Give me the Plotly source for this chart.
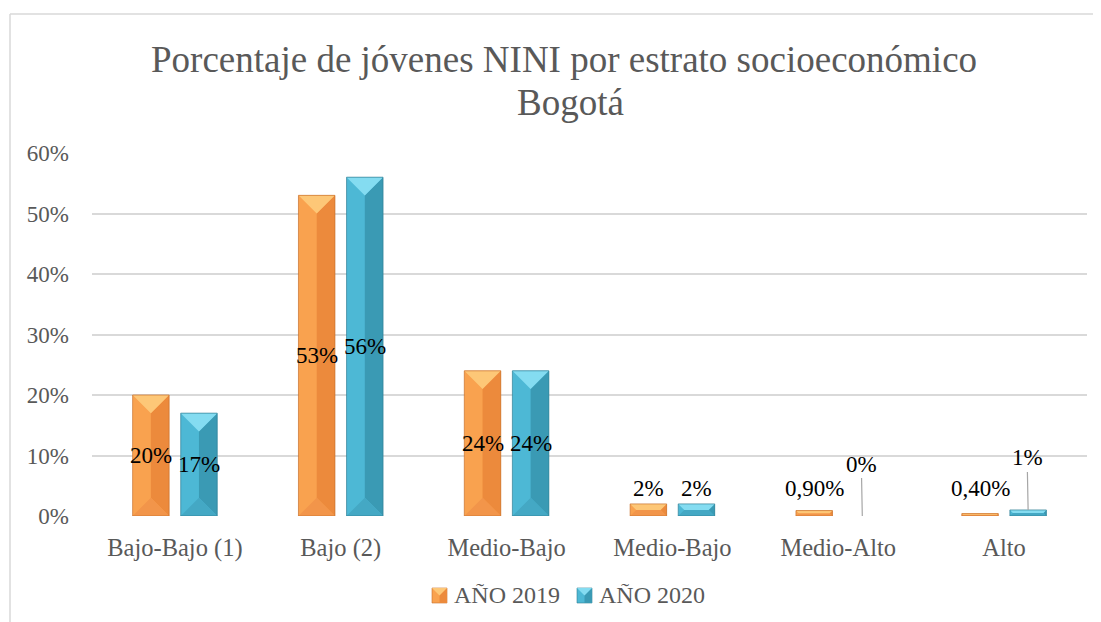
import plotly.graph_objects as go

# data
categories = ["Bajo-Bajo (1)", "Bajo (2)", "Medio-Bajo", "Medio-Bajo", "Medio-Alto", "Alto"]
y2019 = [20, 53, 24, 2, 0.9, 0.4]
y2020 = [17, 56, 24, 2, 0, 1]
labels2019 = ["20%", "53%", "24%", "2%", "0,90%", "0,40%"]
labels2020 = ["17%", "56%", "24%", "2%", "0%", "1%"]
yticks = [0, 10, 20, 30, 40, 50, 60]

W, H = 1101, 622
OFF = 8  # page body offset
L, T = 84, 145
plot_w, plot_h = 995, 363
R = W - L - plot_w
B = H - T - plot_h
px_x = plot_w / len(categories)
px_y = plot_h / 60.0


def px2paper(sx, sy):
    fx, fy = sx - OFF, sy - OFF
    return (fx - L) / plot_w, (T + plot_h - fy) / plot_h


bar_w = 0.22
series = [
    dict(name="AÑO 2019", vals=y2019, labels=labels2019, off=-0.255,
         left="#F9A24F", right="#EC8A3C", top="#FDC777", bottom="#F2954A", edge="#C8712D",
         icon_x=432),
    dict(name="AÑO 2020", vals=y2020, labels=labels2020, off=0.035,
         left="#4DB8D5", right="#3A9AB4", top="#84DCF1", bottom="#44A8C4", edge="#2F7F95",
         icon_x=577),
]

fig = go.Figure()
annotations = []
shapes = []

for s in series:
    xs = list(range(len(categories)))
    fig.add_trace(go.Bar(
        x=xs, y=s["vals"], width=bar_w, offset=s["off"],
        name=s["name"], marker=dict(color=s["left"], line=dict(width=0)),
        hoverinfo="skip", showlegend=False
    ))

    # bevel faces
    faces = {"right": ([], []), "top": ([], []), "bottom": ([], []), "edge": ([], [])}
    for i, v in enumerate(s["vals"]):
        if v <= 0:
            continue
        x0 = i + s["off"]
        x1 = x0 + bar_w
        hw_px = bar_w * px_x / 2
        b_px = min(hw_px, v * px_y / 2)
        bx = b_px / px_x
        by = b_px / px_y
        polys = {
            "right": [(x1, 0), (x1, v), (x1 - bx, v - by), (x1 - bx, by)],
            "top": [(x0, v), (x1, v), (x1 - bx, v - by), (x0 + bx, v - by)],
            "bottom": [(x0, 0), (x1, 0), (x1 - bx, by), (x0 + bx, by)],
            "edge": [(x0, 0), (x0, v), (x1, v), (x1, 0)],
        }
        for k, pts in polys.items():
            faces[k][0].extend([p[0] for p in pts] + [pts[0][0], None])
            faces[k][1].extend([p[1] for p in pts] + [pts[0][1], None])

    for k in ["right", "bottom", "top"]:
        fig.add_trace(go.Scatter(
            x=faces[k][0], y=faces[k][1], mode="lines", fill="toself",
            fillcolor=s[k], line=dict(width=0), showlegend=False, hoverinfo="skip"
        ))
    fig.add_trace(go.Scatter(
        x=faces["edge"][0], y=faces["edge"][1], mode="lines",
        line=dict(width=0.7, color=s["edge"]), showlegend=False, hoverinfo="skip"
    ))

    # data labels
    for i, (v, lab) in enumerate(zip(s["vals"], s["labels"])):
        xc = i + s["off"] + bar_w / 2
        font = dict(family="Liberation Serif", size=23, color="#000000")
        if v >= 10:
            annotations.append(dict(x=xc, y=v / 2, text=lab, showarrow=False,
                                    font=font, xanchor="center", yanchor="middle"))
        elif s["name"] == "AÑO 2020" and i >= 4:
            annotations.append(dict(x=xc, y=v, text=lab, showarrow=True, arrowhead=0,
                                    arrowwidth=1.2, arrowcolor="#A6A6A6",
                                    ax=-1, ay=-52, font=font))
        else:
            annotations.append(dict(x=xc, y=max(v, 2), text=lab, showarrow=False,
                                    font=font, xanchor="center", yanchor="bottom", yshift=1))

    # custom legend entry: small bevelled square + text
    ix0, iy0 = px2paper(s["icon_x"], 588)
    ix1, iy1 = px2paper(s["icon_x"] + 15, 603)
    ixc = (ix0 + ix1) / 2
    shapes.append(dict(type="rect", xref="paper", yref="paper", x0=ix0, y0=iy1, x1=ix1, y1=iy0,
                       fillcolor=s["left"], line=dict(width=0.6, color=s["edge"])))
    shapes.append(dict(type="rect", xref="paper", yref="paper", x0=ixc, y0=iy1, x1=ix1, y1=iy0,
                       fillcolor=s["right"], line=dict(width=0)))
    _, imid = px2paper(0, 595.5)
    shapes.append(dict(type="path", xref="paper", yref="paper",
                       path=f"M{ix0},{iy0} L{ix1},{iy0} L{ixc},{imid} Z",
                       fillcolor=s["top"], line=dict(width=0)))
    tx, ty = px2paper(s["icon_x"] + 20, 595)
    annotations.append(dict(xref="paper", yref="paper", x=tx, y=ty, text=s["name"],
                            showarrow=False, xanchor="left", yanchor="middle",
                            font=dict(family="Liberation Serif", size=24, color="#595959")))

# title as two lines
for text, sx, sy in [("Porcentaje de jóvenes NINI por estrato socioeconómico", 564, 60),
                     ("Bogotá", 570, 102)]:
    tx, ty = px2paper(sx, sy)
    annotations.append(dict(xref="paper", yref="paper", x=tx, y=ty, text=text,
                            showarrow=False, xanchor="center", yanchor="middle",
                            font=dict(family="Liberation Serif", size=37, color="#595959")))

# outer chart border (top and left edges visible)
bx0, by0 = px2paper(10, 14)
bx1, _ = px2paper(W + 20, 14)
_, by1 = px2paper(10, H + 20)
shapes += [
    dict(type="line", xref="paper", yref="paper", x0=bx0, y0=by0, x1=bx1, y1=by0,
         line=dict(color="#D9D9D9", width=1.5)),
    dict(type="line", xref="paper", yref="paper", x0=bx0, y0=by0, x1=bx0, y1=by1,
         line=dict(color="#D9D9D9", width=1.5)),
]

fig.update_layout(
    width=W, height=H,
    margin=dict(l=L, r=R, t=T, b=B, autoexpand=False),
    paper_bgcolor="white", plot_bgcolor="white",
    barmode="overlay",
    font=dict(family="Liberation Serif", size=23, color="#595959"),
    xaxis=dict(range=[-0.5, len(categories) - 0.5], tickvals=list(range(len(categories))),
               ticktext=categories, showgrid=False, zeroline=False, showline=False,
               ticks="", ticklabelstandoff=14, tickangle=0, automargin=False,
               tickfont=dict(size=24.5)),
    yaxis=dict(range=[0, 60], tickvals=yticks, ticktext=[f"{t}%" for t in yticks],
               showgrid=True, gridcolor="#D9D9D9", gridwidth=1.5, zeroline=False,
               showline=False, ticks="", ticklabelstandoff=22, automargin=False),
    annotations=annotations,
    shapes=shapes,
    showlegend=False,
)

fig.write_html("out.html")
